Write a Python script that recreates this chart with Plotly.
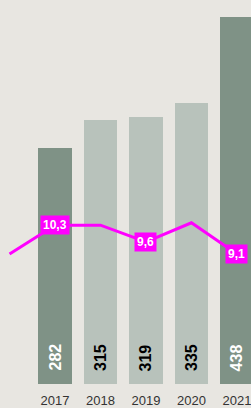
import plotly.graph_objects as go

years = [2017, 2018, 2019, 2020, 2021]
bar_values = [282, 315, 319, 335, 438]
bar_colors = ["#7f9286", "#b8c2bb", "#b8c2bb", "#b8c2bb", "#7f9286"]
bar_text_colors = ["white", "black", "black", "black", "white"]

line_years = [2016, 2017, 2018, 2019, 2020, 2021]
line_values = [9.1, 10.3, 10.3, 9.6, 10.4, 9.1]
line_labels = ["", "10,3", "", "9,6", "", "9,1"]

fig = go.Figure()
fig.add_trace(go.Bar(
    x=years, y=bar_values, width=0.73,
    marker=dict(color=bar_colors, line=dict(width=0)),
    cliponaxis=False, hoverinfo="skip",
))
for xv, v, tc in zip(years, bar_values, bar_text_colors):
    fig.add_annotation(
        x=xv, y=0, xref="x", yref="y", text="<b>" + str(v) + "</b>",
        showarrow=False, textangle=-90, yanchor="bottom", xanchor="center",
        yshift=11, font=dict(family="Liberation Sans, Arial", size=16, color=tc),
    )
fig.add_trace(go.Scatter(
    x=line_years, y=line_values, yaxis="y2", mode="lines",
    line=dict(color="#ff00ff", width=3), hoverinfo="skip",
))
for xv, yv, lab in zip(line_years, line_values, line_labels):
    if lab:
        fig.add_annotation(
            x=xv, y=yv, xref="x", yref="y2", text="<b>" + lab + "</b>",
            showarrow=False, bgcolor="#ff00ff", borderpad=2,
            font=dict(family="Liberation Sans, Arial", size=12, color="white"),
        )

fig.update_layout(
    width=251, height=408,
    margin=dict(l=0, r=0, t=0, b=24),
    paper_bgcolor="#e8e6e1", plot_bgcolor="#e8e6e1",
    showlegend=False, bargap=0,
    xaxis=dict(range=[2015.79, 2021.31], tickmode="array", tickvals=years,
               ticktext=[str(y) for y in years], showgrid=False, zeroline=False,
               showline=False, ticks="", ticklabelstandoff=7, automargin=False,
               ticklabeloverflow="allow",
               tickfont=dict(family="Liberation Sans, Arial", size=13, color="#333333")),
    yaxis=dict(range=[0, 458], visible=False, showgrid=False),
    yaxis2=dict(range=[3.683, 19.683], overlaying="y", visible=False, showgrid=False),
)
fig.write_html("out.html", config={"displayModeBar": False},
               post_script="document.body.style.margin='0';document.body.style.overflow='hidden';")
